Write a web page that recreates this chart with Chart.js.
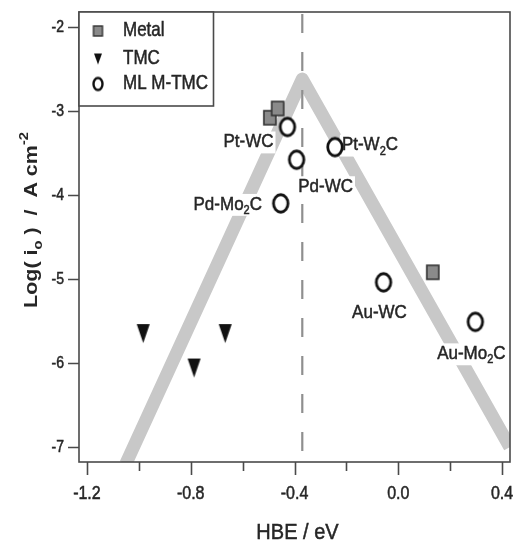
<!DOCTYPE html>
<html>
<head>
<meta charset="utf-8">
<script src="https://cdn.jsdelivr.net/npm/chart.js@4.4.0/dist/chart.umd.min.js"></script>
<style>
  html, body { margin: 0; padding: 0; background: #fff; }
</style>
</head>
<body>
<canvas id="myChart" width="519" height="547"></canvas>
<script>
// values
const metalX = [-0.495, -0.465, 0.133];
const metalY = [-3.08, -2.97, -4.92];

const tmcX = [-0.983, -0.787, -0.667];
const tmcY = [-5.65, -6.06, -5.65];

const mlNames = ["Pt-WC", "Pd-WC", "Pt-W_{2}C", "Pd-Mo_{2}C", "Au-WC", "Au-Mo_{2}C"];
const mlX = [-0.427, -0.392, -0.244, -0.453, -0.057, 0.297];
const mlY = [-3.19, -3.58, -3.43, -4.10, -5.04, -5.51];

// the grey volcano (left foot, top, right foot) and the dashed optimum
const volcanoX = [-1.05, -0.37, 0.43];
const volcanoY = [-7.2, -2.62, -7.0];
const optimumX = -0.37;

const xTicks = [-1.2, -0.8, -0.4, 0.0, 0.4];
const xMinorTicks = [-1.0, -0.6, -0.2, 0.2];
const yTicks = [-2, -3, -4, -5, -6, -7];
const xRange = [-1.2305, 0.4305];
const yRange = [-7.1786, -1.8214];

const legendNames = ["Metal", "TMC", "ML M-TMC"];
const xTitle = "HBE / eV";
const yTitle = "Log( i_{o} )  /  A cm^{-2}";

const FONT = "'Liberation Sans', Arial, sans-serif";
const INK = "#262626";

// where each ML M-TMC name sits next to its circle (px)
const mlLabelShift = [[-39, 15], [29, 27], [35, -2], [-53, 1], [-4, 30], [-4, 32]];

function zip(xs, ys) {
  return xs.map((x, i) => ({ x: x, y: ys[i] }));
}

// markers are a bit taller than wide in the original scan
function makeMarker(kind, w, h, lw) {
  const c = document.createElement("canvas");
  c.width = Math.ceil(w + lw + 2);
  c.height = Math.ceil(h + lw + 2);
  const g = c.getContext("2d");
  const cx = c.width / 2, cy = c.height / 2;
  g.lineWidth = lw;
  if (kind === "ellipse") {
    g.beginPath();
    g.ellipse(cx, cy, w / 2, h / 2, 0, 0, Math.PI * 2);
    g.fillStyle = "#fff";
    g.fill();
    g.strokeStyle = "#111";
    g.stroke();
  } else if (kind === "tri") {
    g.beginPath();
    g.moveTo(cx - w / 2, cy - h / 2);
    g.lineTo(cx + w / 2, cy - h / 2);
    g.lineTo(cx, cy + h / 2);
    g.closePath();
    g.fillStyle = "#111";
    g.fill();
  } else {
    g.fillStyle = "#8a8a8a";
    g.fillRect(cx - w / 2, cy - h / 2, w, h);
    g.strokeStyle = "#333";
    g.strokeRect(cx - w / 2, cy - h / 2, w, h);
  }
  return c;
}

const squareMark = makeMarker("rect", 12, 14, 1.6);
const triMark = makeMarker("tri", 13, 19, 0);
const ringMark = makeMarker("ellipse", 14.5, 17.5, 2.8);
const legendMarks = [
  makeMarker("rect", 9, 10, 1.4),
  makeMarker("tri", 8, 11, 0),
  makeMarker("ellipse", 9, 12, 2.4)
];

function parseRich(str) {
  const parts = [];
  const re = /([_^])\{([^}]*)\}|([^_^]+)/g;
  let m;
  while ((m = re.exec(str))) {
    if (m[3]) parts.push({ t: m[3], k: "" });
    else parts.push({ t: m[2], k: m[1] });
  }
  return parts;
}

// text with sub/superscripts, a little stretched like the scan
function richText(ctx, str, x, y, size, opts) {
  opts = opts || {};
  const weight = opts.bold ? "bold " : "";
  const small = Math.round(size * 0.66);
  const parts = parseRich(str);
  let total = 0;
  parts.forEach((p) => {
    ctx.font = weight + (p.k ? small : size) + "px " + FONT;
    p.w = ctx.measureText(p.t).width;
    total += p.w;
  });
  ctx.save();
  ctx.translate(x, y);
  if (opts.rotate) ctx.rotate(opts.rotate);
  ctx.scale(opts.sx || 1, opts.sy || 1.12);
  ctx.textBaseline = "middle";
  ctx.textAlign = "left";
  let cx = -total / 2;
  if (opts.align === "left") cx = 0;
  if (opts.align === "right") cx = -total;
  if (opts.box) {
    ctx.fillStyle = "#fff";
    ctx.fillRect(cx - 2, -size * 0.55, total + 4, size * 1.15);
  }
  ctx.fillStyle = opts.color || INK;
  ctx.strokeStyle = opts.color || INK;
  ctx.lineWidth = 0.45;
  parts.forEach((p) => {
    ctx.font = weight + (p.k ? small : size) + "px " + FONT;
    let dy = 0;
    if (p.k === "_") dy = size * 0.32;
    if (p.k === "^") dy = -size * 0.4;
    ctx.fillText(p.t, cx, dy);
    if (!opts.bold) ctx.strokeText(p.t, cx, dy);
    cx += p.w;
  });
  ctx.restore();
}

const paperPlugin = {
  id: "paper",
  afterDatasetDraw(chart, args) {
    // names go on top of the grey band and the dashed line, under the markers
    if (args.index !== 4) return;
    const ctx = chart.ctx;
    const xs = chart.scales.x, ys = chart.scales.y;
    mlNames.forEach((name, i) => {
      const px = xs.getPixelForValue(mlX[i]) + mlLabelShift[i][0];
      const py = ys.getPixelForValue(mlY[i]) + mlLabelShift[i][1];
      richText(ctx, name, px, py, 17, { box: true });
    });
  },
  afterDraw(chart) {
    const ctx = chart.ctx;
    const a = chart.chartArea;
    const xs = chart.scales.x, ys = chart.scales.y;

    ctx.save();
    ctx.strokeStyle = "#4a4a4a";
    ctx.lineWidth = 1.6;
    ctx.strokeRect(a.left, a.top, a.right - a.left, a.bottom - a.top);

    // tick marks
    ctx.beginPath();
    xTicks.forEach((v) => {
      const px = Math.round(xs.getPixelForValue(v)) + 0.5;
      ctx.moveTo(px, a.bottom);
      ctx.lineTo(px, a.bottom + 13);
    });
    xMinorTicks.forEach((v) => {
      const px = Math.round(xs.getPixelForValue(v)) + 0.5;
      ctx.moveTo(px, a.bottom);
      ctx.lineTo(px, a.bottom + 9);
    });
    yTicks.forEach((v) => {
      const py = Math.round(ys.getPixelForValue(v)) + 0.5;
      ctx.moveTo(a.left, py);
      ctx.lineTo(a.left - 11, py);
    });
    ctx.stroke();
    ctx.restore();

    // tick labels
    xTicks.forEach((v) => {
      richText(ctx, v.toFixed(1), xs.getPixelForValue(v), a.bottom + 32, 16, { sy: 1.2 });
    });
    yTicks.forEach((v) => {
      richText(ctx, String(v), a.left - 15, ys.getPixelForValue(v), 14, { align: "right", sy: 1.2 });
    });

    // axis titles
    richText(ctx, xTitle, (a.left + a.right) / 2 + 3, 533, 20, { sy: 1.1 });
    richText(ctx, yTitle, 32, 220, 19, { bold: true, rotate: -Math.PI / 2, sx: 1.13, sy: 1 });

    // legend box in the top left corner
    const lw = 134.5, lh = 94;
    ctx.save();
    ctx.fillStyle = "#fff";
    ctx.fillRect(a.left, a.top, lw, lh);
    ctx.strokeStyle = "#4a4a4a";
    ctx.lineWidth = 1.6;
    ctx.strokeRect(a.left, a.top, lw, lh);
    const rows = [19, 47, 72];
    legendNames.forEach((name, i) => {
      const m = legendMarks[i];
      const cy = a.top + rows[i];
      ctx.drawImage(m, a.left + 19 - m.width / 2, cy - m.height / 2);
      richText(ctx, name, a.left + 44, cy, 17, { align: "left", sy: 1.15 });
    });
    ctx.restore();
  }
};

const ctx = document.getElementById("myChart").getContext("2d");

const myChart = new Chart(ctx, {
  type: "scatter",
  data: {
    datasets: [
      {
        label: legendNames[0],
        data: zip(metalX, metalY),
        pointStyle: squareMark,
        pointRadius: 7,
        order: 1
      },
      {
        label: legendNames[1],
        data: zip(tmcX, tmcY),
        pointStyle: triMark,
        pointRadius: 7,
        order: 2
      },
      {
        label: legendNames[2],
        data: zip(mlX, mlY),
        pointStyle: ringMark,
        pointRadius: 8,
        order: 0
      },
      {
        label: "volcano",
        type: "line",
        data: zip(volcanoX, volcanoY),
        borderColor: "#c8c8c8",
        borderWidth: 13,
        borderJoinStyle: "round",
        pointRadius: 0,
        showLine: true,
        fill: false,
        order: 6
      },
      {
        label: "optimum",
        type: "line",
        data: [{ x: optimumX, y: yRange[1] }, { x: optimumX, y: yRange[0] }],
        borderColor: "#8f8f8f",
        borderWidth: 2.2,
        borderDash: [19, 19],
        borderDashOffset: -2,
        pointRadius: 0,
        showLine: true,
        fill: false,
        order: 5
      }
    ]
  },
  options: {
    responsive: false,
    animation: false,
    layout: { padding: { top: 12, right: 4, left: 0, bottom: 0 } },
    plugins: {
      legend: { display: false },
      tooltip: { enabled: false }
    },
    scales: {
      x: {
        type: "linear",
        min: xRange[0],
        max: xRange[1],
        afterBuildTicks: (s) => { s.ticks = xTicks.map((v) => ({ value: v })); },
        afterFit: (s) => { s.height = 85; },
        ticks: { display: false },
        grid: { display: false, drawTicks: false },
        border: { display: false }
      },
      y: {
        type: "linear",
        min: yRange[0],
        max: yRange[1],
        afterBuildTicks: (s) => { s.ticks = yTicks.map((v) => ({ value: v })); },
        afterFit: (s) => { s.width = 79; },
        ticks: { display: false },
        grid: { display: false, drawTicks: false },
        border: { display: false }
      }
    }
  },
  plugins: [paperPlugin]
});
</script>
</body>
</html>
